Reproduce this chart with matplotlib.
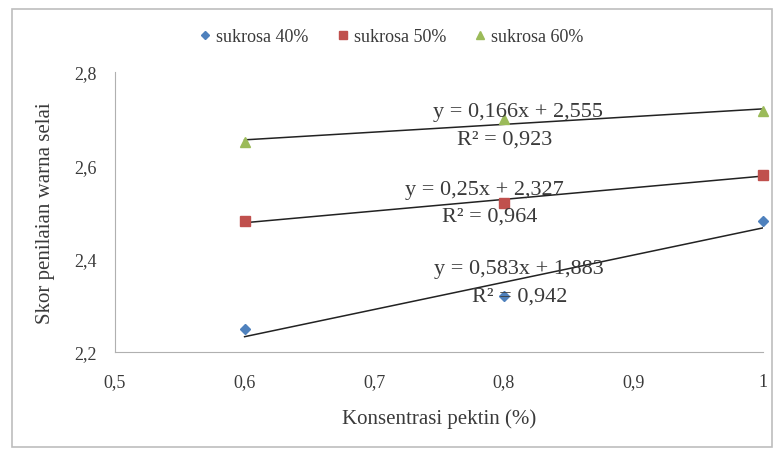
import matplotlib
matplotlib.use("Agg")
import matplotlib.pyplot as plt
from matplotlib.patches import Rectangle
from matplotlib.ticker import FuncFormatter, MultipleLocator
import numpy as np

# data
pektin = [0.6, 0.8, 1.0]
sukrosa_40 = [2.25, 2.32, 2.48]
sukrosa_50 = [2.48, 2.52, 2.58]
sukrosa_60 = [2.65, 2.70, 2.716]
labels = ["sukrosa 40%", "sukrosa 50%", "sukrosa 60%"]
slopes = [0.583, 0.25, 0.166]
intercepts = [1.883, 2.327, 2.555]
eq_txt = ["y = 0,583x + 1,883", "y = 0,25x + 2,327", "y = 0,166x + 2,555"]
r2_txt = ["R² = 0,942", "R² = 0,964", "R² = 0,923"]

C = ["#4F81BD", "#C0504D", "#9BBB59"]
MK = ["D", "s", "^"]
MS = [5, 7, 7]
TXT = "#3a3a3a"
plt.rcParams.update({"font.family": ["Liberation Serif", "DejaVu Serif"]})

W, H = 773, 452
fig = plt.figure(figsize=(W / 100, H / 100), dpi=100)
fig.patches.append(Rectangle((12 / W, 1 - 448 / H), 760 / W, 438 / H, transform=fig.transFigure,
                             fill=False, edgecolor="#bdbdbd", lw=1.2))
ax = fig.add_axes([115 / W, 1 - 353 / H, 648 / W, 280 / H])

series = [sukrosa_40, sukrosa_50, sukrosa_60]
xl = np.array([0.6, 1.0])
for i, ys in enumerate(series):
    ax.plot(pektin, ys, ls="none", marker=MK[i], ms=MS[i], color=C[i], label=labels[i],
            clip_on=False, zorder=3)
    ax.plot(xl, slopes[i] * xl + intercepts[i], color="#222222", lw=1.1, zorder=2)

# equation labels (positions in data units)
eq_pos = [(0.812, 2.378), (0.785, 2.549), (0.811, 2.716)]
r2_pos = [(0.812, 2.32), (0.789, 2.491), (0.801, 2.656)]
for i in range(3):
    ax.text(*eq_pos[i], eq_txt[i], ha="center", va="center", fontsize=16, color=TXT, zorder=4)
    ax.text(*r2_pos[i], r2_txt[i], ha="center", va="center", fontsize=16, color=TXT, zorder=4)

ax.set_xlim(0.5, 1.0)
ax.set_ylim(2.2, 2.8)
ax.xaxis.set_major_locator(MultipleLocator(0.1))
ax.yaxis.set_major_locator(MultipleLocator(0.2))
fmt = FuncFormatter(lambda v, p: ("%g" % round(v, 2)).replace(".", ","))
ax.xaxis.set_major_formatter(fmt)
ax.yaxis.set_major_formatter(fmt)
for s in ["top", "right"]:
    ax.spines[s].set_visible(False)
for s in ["left", "bottom"]:
    ax.spines[s].set_color("#b0b0b0")
ax.tick_params(length=0, labelsize=13, colors=TXT, pad=15)
ax.tick_params(axis="y", pad=13)
ax.set_xlabel("Konsentrasi pektin (%)", fontsize=15, color=TXT, labelpad=13)
ax.set_ylabel("Skor penilaian warna selai", fontsize=15, color=TXT, labelpad=14)

fig.legend(loc="center", bbox_to_anchor=(390 / W, 1 - 38 / H), ncol=3, frameon=False,
           fontsize=13, handletextpad=0.1, columnspacing=1.4, labelcolor=TXT,
           handlelength=1.0, markerscale=0.8)

fig.savefig("out.png", dpi=100)
